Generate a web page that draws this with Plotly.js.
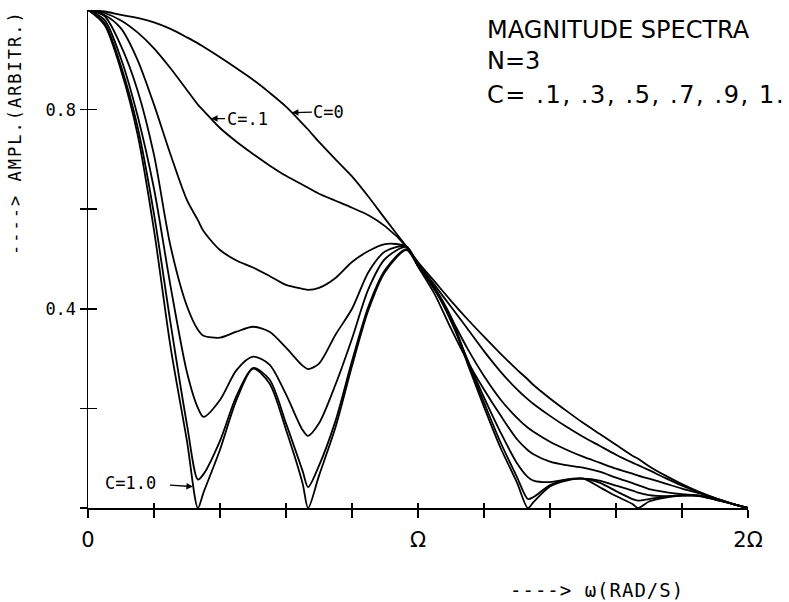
<!DOCTYPE html>
<html>
<head>
<meta charset="utf-8">
<script src="https://cdn.plot.ly/plotly-3.0.1.min.js"></script>
<style>
html,body{margin:0;padding:0;background:#fff;}
#chart{width:789px;height:602px;}
</style>
</head>
<body>
<div id="chart"></div>
<script>
// omega in units of Omega
const omega = [0,0.05,0.1,0.15,0.2,0.25,0.3,0.333,0.35,0.4,0.45,0.5,0.55,0.6,0.65,0.667,0.7,0.75,0.8,0.85,0.9,0.965,
  1.0,1.05,1.1,1.15,1.2,1.25,1.3,1.333,1.35,1.4,1.45,1.5,1.55,1.6,1.65,1.667,1.7,1.75,1.8,1.85,1.9,1.95,2.0];

const ampC0  = [1,0.997,0.99,0.984,0.975,0.962,0.945,0.933,0.926,0.905,0.883,0.86,0.834,0.806,0.772,0.76,0.735,0.70,0.666,0.625,0.581,0.525,
  0.494,0.455,0.416,0.379,0.344,0.31,0.278,0.258,0.247,0.22,0.195,0.171,0.149,0.127,0.105,0.099,0.084,0.065,0.048,0.033,0.02,0.009,0];
const ampC01 = [1,0.994,0.979,0.955,0.923,0.883,0.839,0.81,0.798,0.763,0.7355,0.711,0.688,0.667,0.649,0.643,0.631,0.617,0.603,0.588,0.566,0.525,
  0.492,0.448,0.404,0.36,0.315,0.274,0.238,0.218,0.209,0.185,0.163,0.143,0.125,0.107,0.091,0.086,0.076,0.06,0.045,0.032,0.02,0.009,0];
const ampC03 = [1,0.99,0.963,0.9,0.81,0.71,0.618,0.578,0.556,0.518,0.497,0.483,0.466,0.448,0.44,0.438,0.442,0.462,0.494,0.516,0.53,0.525,
  0.488,0.438,0.382,0.32,0.265,0.218,0.181,0.161,0.153,0.133,0.117,0.103,0.091,0.079,0.069,0.065,0.059,0.049,0.039,0.03,0.02,0.009,0];
const ampC05 = [1,0.988,0.928,0.839,0.709,0.526,0.405,0.358,0.346,0.342,0.354,0.364,0.354,0.322,0.286,0.279,0.29,0.348,0.40,0.474,0.515,0.525,
  0.485,0.43,0.36,0.295,0.238,0.186,0.138,0.116,0.108,0.093,0.086,0.081,0.073,0.061,0.05,0.046,0.038,0.032,0.028,0.025,0.018,0.009,0];
const ampC07 = [1,0.98,0.902,0.788,0.641,0.446,0.272,0.201,0.183,0.217,0.277,0.304,0.288,0.228,0.157,0.145,0.17,0.248,0.34,0.44,0.50,0.524,
  0.486,0.44,0.375,0.298,0.222,0.152,0.09,0.062,0.055,0.052,0.057,0.059,0.055,0.045,0.035,0.031,0.026,0.024,0.025,0.024,0.017,0.009,0];
const ampC09 = [1,0.974,0.887,0.766,0.59,0.372,0.167,0.057,0.068,0.135,0.225,0.281,0.258,0.17,0.075,0.042,0.085,0.175,0.295,0.405,0.478,0.52,
  0.487,0.443,0.384,0.295,0.212,0.132,0.062,0.018,0.022,0.046,0.057,0.059,0.051,0.034,0.018,0.015,0.018,0.023,0.026,0.025,0.018,0.009,0];
const ampC10 = [1,0.97,0.879,0.751,0.558,0.324,0.134,0,0.031,0.117,0.217,0.28,0.25,0.157,0.05,0,0.065,0.162,0.285,0.398,0.474,0.518,
  0.486,0.442,0.38,0.29,0.203,0.121,0.051,0,0.012,0.043,0.055,0.059,0.042,0.024,0.008,0,0.013,0.021,0.025,0.025,0.017,0.009,0];

const seriesNames = ['C=0','C=.1','C=.3','C=.5','C=.7','C=.9','C=1.0'];
const seriesVals = [ampC0, ampC01, ampC03, ampC05, ampC07, ampC09, ampC10];

const xTickVals = [0,0.2,0.4,0.6,0.8,1,1.2,1.4,1.6,1.8,2];
const xTickText = ['0','','','','','Ω','','','','','2Ω'];
const yTickVals = [0,0.2,0.4,0.6,0.8];
const yTickText = ['','','0.4','','0.8'];

const traces = seriesVals.map((v, i) => ({
  x: omega, y: v, name: seriesNames[i], type: 'scatter', mode: 'lines',
  line: {color: '#000', width: 1.8, shape: 'spline', smoothing: 0.8},
  hoverinfo: 'skip', showlegend: false
}));
traces.push({x: [], y: [], xaxis: 'x2', yaxis: 'y2', type: 'scatter', mode: 'lines', showlegend: false});

const mono = 'DejaVu Sans Mono';
const sans = 'DejaVu Sans';
const L = 88, PW = 660, T = 10, PH = 498.3;
const px = v => (v - L) / PW;
const py = v => (T + PH - v) / PH;

const layout = {
  width: 789, height: 602,
  margin: {l: L, r: 789 - L - PW, t: T, b: 602 - T - PH, pad: 0},
  paper_bgcolor: '#fff', plot_bgcolor: '#fff',
  showlegend: false,
  xaxis: {
    range: [0, 2], showgrid: false, zeroline: false, showline: true, linecolor: '#000', linewidth: 1.5,
    ticks: 'outside', ticklen: 8, tickwidth: 1.5, tickcolor: '#000',
    tickmode: 'array', tickvals: xTickVals, ticktext: xTickText,
    tickfont: {family: sans, size: 21, color: '#000'}, ticklabelstandoff: 4, fixedrange: true
  },
  xaxis2: {
    range: [0, 2], overlaying: 'x', anchor: 'y', side: 'bottom', showgrid: false, zeroline: false, showline: false,
    ticks: 'inside', ticklen: 5, tickwidth: 1.5, tickcolor: '#000',
    tickmode: 'array', tickvals: xTickVals, showticklabels: false
  },
  yaxis: {
    range: [0, 1], showgrid: false, zeroline: false, showline: true, linecolor: '#000', linewidth: 1.5,
    ticks: 'outside', ticklen: 7, tickwidth: 1.5, tickcolor: '#000',
    tickmode: 'array', tickvals: yTickVals, ticktext: yTickText,
    tickfont: {family: mono, size: 17, color: '#000'}, fixedrange: true
  },
  yaxis2: {
    range: [0, 1], overlaying: 'y', anchor: 'x', side: 'left', showgrid: false, zeroline: false, showline: false,
    ticks: 'inside', ticklen: 9, tickwidth: 1.5, tickcolor: '#000',
    tickmode: 'array', tickvals: yTickVals, showticklabels: false
  },
  annotations: [
    {xref: 'paper', yref: 'paper', x: px(485), y: py(30), xanchor: 'left', yanchor: 'middle', align: 'left', showarrow: false,
     text: 'MAGNITUDE SPECTRA', font: {family: sans, size: 24, color: '#000'}},
    {xref: 'paper', yref: 'paper', x: px(485), y: py(61), xanchor: 'left', yanchor: 'middle', align: 'left', showarrow: false,
     text: 'N=3', font: {family: sans, size: 24, color: '#000'}},
    {xref: 'paper', yref: 'paper', x: px(485), y: py(95), xanchor: 'left', yanchor: 'middle', align: 'left', showarrow: false,
     text: 'C= .1, .3, .5, .7, .9, 1.', font: {family: sans, size: 24, color: '#000'}},
    {xref: 'paper', yref: 'paper', x: px(597), y: py(590), xanchor: 'center', yanchor: 'middle', showarrow: false,
     text: '----> ω(RAD/S)', font: {family: mono, size: 19, color: '#000'}},
    {xref: 'paper', yref: 'paper', x: px(15), y: py(133), xanchor: 'center', yanchor: 'middle', showarrow: false,
     textangle: -90, text: '----> AMPL.(ARBITR.)', font: {family: mono, size: 17, color: '#000'}},
    {x: 0.373, y: 0.782, xref: 'x', yref: 'y', ax: 36, ay: 0, showarrow: true, arrowhead: 2, arrowsize: 1, arrowwidth: 1.3,
     arrowcolor: '#000', text: 'C=.1', font: {family: mono, size: 17, color: '#000'}, standoff: 0},
    {x: 0.618, y: 0.794, xref: 'x', yref: 'y', ax: 37, ay: -1, showarrow: true, arrowhead: 2, arrowsize: 1, arrowwidth: 1.3,
     arrowcolor: '#000', text: 'C=0', font: {family: mono, size: 17, color: '#000'}, standoff: 0},
    {x: 0.318, y: 0.043, xref: 'x', yref: 'y', ax: -62, ay: -4, showarrow: true, arrowhead: 2, arrowsize: 1, arrowwidth: 1.3,
     arrowcolor: '#000', text: 'C=1.0', font: {family: mono, size: 17, color: '#000'}, standoff: 0, startstandoff: 12}
  ]
};

// wider letter spacing like the plotter lettering
const spacing = {'C= .1, .3, .5, .7, .9, 1.': '1.6px', '----> AMPL.(ARBITR.)': '2px', '----> ω(RAD/S)': '1px'};

Plotly.newPlot('chart', traces, layout, {displayModeBar: false, staticPlot: true}).then(() => {
  document.querySelectorAll('#chart .annotation-text').forEach(t => {
    const s = spacing[t.textContent];
    if (s) t.style.letterSpacing = s;
  });
});
</script>
</body>
</html>
